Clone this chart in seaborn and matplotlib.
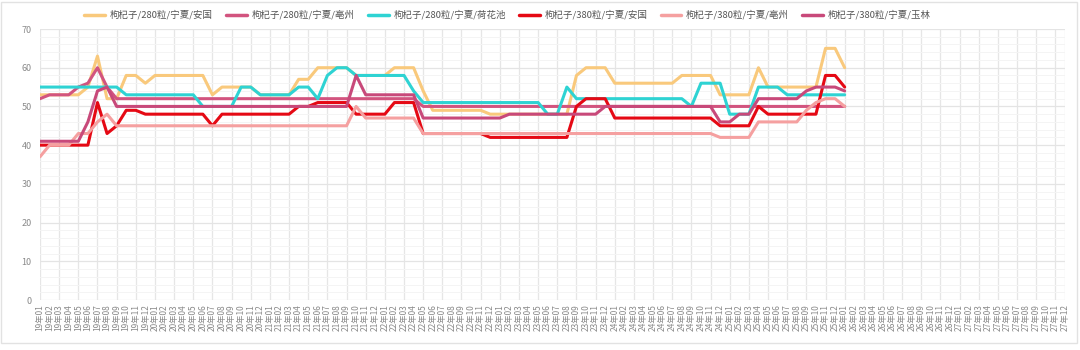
import matplotlib
matplotlib.use("Agg")
import matplotlib.pyplot as plt
import seaborn as sns
import pandas as pd
from matplotlib.patches import Rectangle
from matplotlib.lines import Line2D

# ---------------- data ----------------
months = [f"{y}年{m:02d}" for y in range(19, 28) for m in range(1, 13)]

series_names = [
    "枸杞子/280粒/宁夏/安国",
    "枸杞子/280粒/宁夏/亳州",
    "枸杞子/280粒/宁夏/荷花池",
    "枸杞子/380粒/宁夏/安国",
    "枸杞子/380粒/宁夏/亳州",
    "枸杞子/380粒/宁夏/玉林",
]
series_colors = ["#f9c97c", "#d2547f", "#2ed3d3", "#e50914", "#f5a0a0", "#c8497a"]

anguo_280 = [53, 53, 53, 53, 53, 55, 63, 52, 52, 58,
             58, 56, 58, 58, 58, 58, 58, 58, 53, 55,
             55, 55, 55, 53, 53, 53, 53, 57, 57, 60,
             60, 60, 60, 58, 58, 58, 58, 60, 60, 60,
             54, 49, 49, 49, 49, 49, 49, 48, 48, 48,
             48, 48, 48, 48, 48, 48, 58, 60, 60, 60,
             56, 56, 56, 56, 56, 56, 56, 58, 58, 58,
             58, 53, 53, 53, 53, 60, 55, 55, 55, 55,
             55, 55, 65, 65, 60]
bozhou_280 = [52, 53, 53, 53, 55, 56, 60, 55, 52, 52,
              52, 52, 52, 52, 52, 52, 52, 52, 52, 52,
              52, 52, 52, 52, 52, 52, 52, 52, 52, 52,
              52, 52, 52, 52, 52, 52, 52, 52, 52, 52,
              50, 50, 50, 50, 50, 50, 50, 50, 50, 50,
              50, 50, 50, 50, 50, 50, 50, 50, 50, 50,
              50, 50, 50, 50, 50, 50, 50, 50, 50, 50,
              50, 50, 50, 50, 50, 50, 50, 50, 50, 50,
              50, 50, 50, 50, 50]
hehuachi_280 = [55, 55, 55, 55, 55, 55, 55, 55, 55, 53,
                53, 53, 53, 53, 53, 53, 53, 50, 50, 50,
                50, 55, 55, 53, 53, 53, 53, 55, 55, 52,
                58, 60, 60, 58, 58, 58, 58, 58, 58, 54,
                51, 51, 51, 51, 51, 51, 51, 51, 51, 51,
                51, 51, 51, 48, 48, 55, 52, 52, 52, 52,
                52, 52, 52, 52, 52, 52, 52, 52, 50, 56,
                56, 56, 48, 48, 48, 55, 55, 55, 53, 53,
                53, 53, 53, 53, 53]
anguo_380 = [40, 40, 40, 40, 40, 40, 51, 43, 45, 49,
             49, 48, 48, 48, 48, 48, 48, 48, 45, 48,
             48, 48, 48, 48, 48, 48, 48, 50, 50, 51,
             51, 51, 51, 48, 48, 48, 48, 51, 51, 51,
             43, 43, 43, 43, 43, 43, 43, 42, 42, 42,
             42, 42, 42, 42, 42, 42, 50, 52, 52, 52,
             47, 47, 47, 47, 47, 47, 47, 47, 47, 47,
             47, 45, 45, 45, 45, 50, 48, 48, 48, 48,
             48, 48, 58, 58, 55]
bozhou_380 = [37, 40, 40, 40, 43, 43, 46, 48, 45, 45,
              45, 45, 45, 45, 45, 45, 45, 45, 45, 45,
              45, 45, 45, 45, 45, 45, 45, 45, 45, 45,
              45, 45, 45, 50, 47, 47, 47, 47, 47, 47,
              43, 43, 43, 43, 43, 43, 43, 43, 43, 43,
              43, 43, 43, 43, 43, 43, 43, 43, 43, 43,
              43, 43, 43, 43, 43, 43, 43, 43, 43, 43,
              43, 42, 42, 42, 42, 46, 46, 46, 46, 46,
              49, 51, 52, 52, 50]
yulin_380 = [41, 41, 41, 41, 41, 46, 54, 55, 50, 50,
             50, 50, 50, 50, 50, 50, 50, 50, 50, 50,
             50, 50, 50, 50, 50, 50, 50, 50, 50, 50,
             50, 50, 50, 58, 53, 53, 53, 53, 53, 53,
             47, 47, 47, 47, 47, 47, 47, 47, 47, 48,
             48, 48, 48, 48, 48, 48, 48, 48, 48, 50,
             50, 50, 50, 50, 50, 50, 50, 50, 50, 50,
             50, 46, 46, 48, 48, 52, 52, 52, 52, 52,
             54, 55, 55, 55, 54]

all_values = [anguo_280, bozhou_280, hehuachi_280, anguo_380, bozhou_380, yulin_380]

rows = []
for name, vals in zip(series_names, all_values):
    for i, v in enumerate(vals):
        rows.append({"idx": i, "month": months[i], "series": name, "value": v})
df = pd.DataFrame(rows)

# ---------------- plot ----------------
sns.set_theme(style="white")
plt.rcParams["font.family"] = ["Noto Sans CJK SC", "DejaVu Sans"]

fig = plt.figure(figsize=(10.8, 3.5), dpi=100)
ax = fig.add_axes([40 / 1080, 50 / 350, 1025 / 1080, 271 / 350])

# grid
ax.set_ylim(0, 70)
ax.set_xlim(0, len(months) - 1)
ax.set_yticks(range(0, 71, 10))
ax.set_yticks(range(0, 71, 2), minor=True)
ax.grid(axis="y", which="major", color="#e4e4e4", lw=0.9)
ax.grid(axis="y", which="minor", color="#f4f4f4", lw=0.7)
ax.vlines(list(range(0, len(months), 2)) + [len(months) - 1], 0, 70,
          colors="#e6e6e6", lw=0.9, zorder=0)
ax.set_axisbelow(True)

sns.lineplot(data=df, x="idx", y="value", hue="series", hue_order=series_names,
             palette=dict(zip(series_names, series_colors)), lw=2.2, ax=ax,
             legend=False, estimator=None, sort=False)

ax.set_xticks(range(len(months)))
ax.set_xticklabels(months, rotation=90, fontsize=6, color="#8a8a8a")
ax.tick_params(axis="x", length=0, pad=3)
ax.tick_params(axis="y", which="both", length=0, labelsize=6.5, labelcolor="#8a8a8a", pad=6)
ax.set_xlabel("")
ax.set_ylabel("")
for s in ax.spines.values():
    s.set_visible(False)

# legend
handles = [Line2D([0], [0], color=c, lw=2.5) for c in series_colors]
fig.legend(handles, series_names, loc="center", bbox_to_anchor=(0.47, 1 - 15 / 350),
           ncol=6, frameon=False, fontsize=6.8, handlelength=2.2, handletextpad=0.5,
           columnspacing=1.4, labelcolor="#555555")

# outer frame
fig.patches.append(Rectangle((1 / 1080, 1 - 343 / 350), 1076 / 1080, 341 / 350,
                             transform=fig.transFigure, fill=False,
                             edgecolor="#e2e2e2", lw=1.0))

fig.savefig("out.png", dpi=100)
